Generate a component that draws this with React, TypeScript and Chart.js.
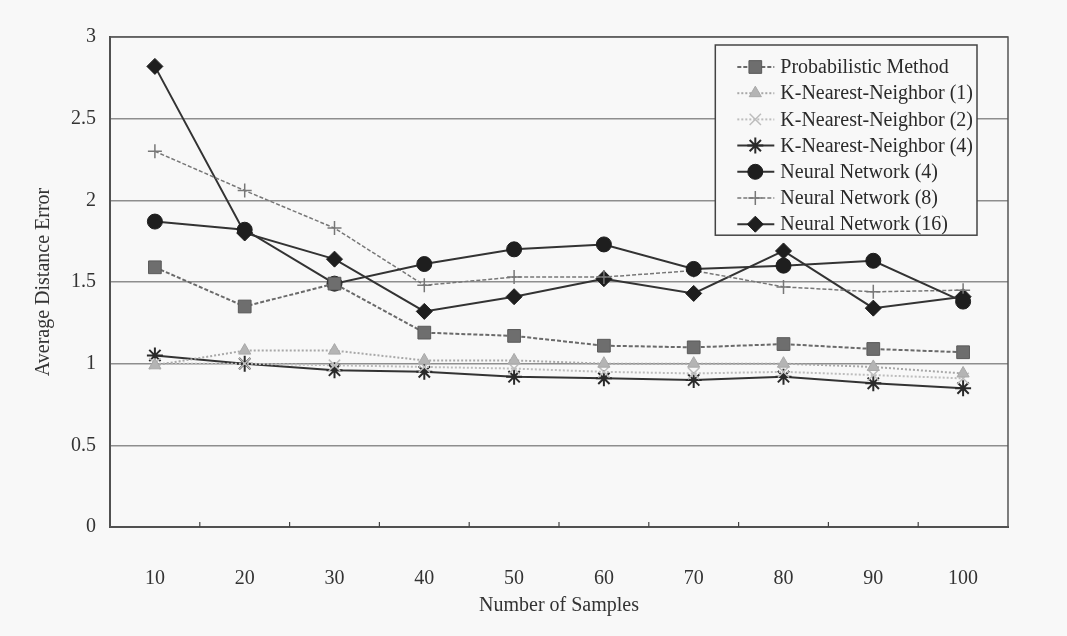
import React, { useEffect, useRef } from 'react';
import { Chart, registerables } from 'chart.js';

Chart.register(...registerables);

const sampleCounts = ['10', '20', '30', '40', '50', '60', '70', '80', '90', '100'];

const probabilisticMethod = [1.59, 1.35, 1.49, 1.19, 1.17, 1.11, 1.1, 1.12, 1.09, 1.07];
const knn1 = [0.99, 1.08, 1.08, 1.02, 1.02, 1.0, 1.0, 1.0, 0.98, 0.94];
const knn2 = [1.0, 1.0, 0.99, 0.98, 0.97, 0.95, 0.94, 0.95, 0.93, 0.91];
const knn4 = [1.05, 1.0, 0.96, 0.95, 0.92, 0.91, 0.9, 0.92, 0.88, 0.85];
const nn4 = [1.87, 1.82, 1.49, 1.61, 1.7, 1.73, 1.58, 1.6, 1.63, 1.38];
const nn8 = [2.3, 2.06, 1.83, 1.48, 1.53, 1.53, 1.57, 1.47, 1.44, 1.45];
const nn16 = [2.82, 1.8, 1.64, 1.32, 1.41, 1.52, 1.43, 1.69, 1.34, 1.41];

const seriesLabels = [
  'Probabilistic Method',
  'K-Nearest-Neighbor (1)',
  'K-Nearest-Neighbor (2)',
  'K-Nearest-Neighbor (4)',
  'Neural Network (4)',
  'Neural Network (8)',
  'Neural Network (16)',
];

const yAxisTitle = 'Average Distance Error';
const xAxisTitle = 'Number of Samples';

const FONT = "'Liberation Serif', 'Times New Roman', serif";
const BG = '#f8f8f8';

function drawMarker(ctx: CanvasRenderingContext2D, style: string, x: number, y: number, r: number, fill: string, stroke: string, lw: number) {
  ctx.save();
  ctx.setLineDash([]);
  ctx.fillStyle = fill;
  ctx.strokeStyle = stroke;
  ctx.lineWidth = lw;
  ctx.beginPath();
  if (style === 'rect') {
    const s = Math.SQRT1_2 * r;
    ctx.rect(x - s, y - s, 2 * s, 2 * s);
    ctx.fill();
    ctx.stroke();
  } else if (style === 'circle') {
    ctx.arc(x, y, r, 0, Math.PI * 2);
    ctx.fill();
    ctx.stroke();
  } else if (style === 'rectRot') {
    ctx.moveTo(x, y - r);
    ctx.lineTo(x + r, y);
    ctx.lineTo(x, y + r);
    ctx.lineTo(x - r, y);
    ctx.closePath();
    ctx.fill();
    ctx.stroke();
  } else if (style === 'triangle') {
    ctx.moveTo(x, y - r);
    ctx.lineTo(x + r * 0.866, y + r * 0.5);
    ctx.lineTo(x - r * 0.866, y + r * 0.5);
    ctx.closePath();
    ctx.fill();
    ctx.stroke();
  } else if (style === 'cross') {
    ctx.moveTo(x - r, y);
    ctx.lineTo(x + r, y);
    ctx.moveTo(x, y - r);
    ctx.lineTo(x, y + r);
    ctx.stroke();
  } else if (style === 'crossRot') {
    const d = r * Math.SQRT1_2;
    ctx.moveTo(x - d, y - d);
    ctx.lineTo(x + d, y + d);
    ctx.moveTo(x - d, y + d);
    ctx.lineTo(x + d, y - d);
    ctx.stroke();
  } else if (style === 'star') {
    const d = r * Math.SQRT1_2;
    ctx.moveTo(x - r, y);
    ctx.lineTo(x + r, y);
    ctx.moveTo(x, y - r);
    ctx.lineTo(x, y + r);
    ctx.moveTo(x - d, y - d);
    ctx.lineTo(x + d, y + d);
    ctx.moveTo(x - d, y + d);
    ctx.lineTo(x + d, y - d);
    ctx.stroke();
  }
  ctx.restore();
}

const framePlugin = {
  id: 'frameAndLegend',
  beforeDraw(chart: any) {
    const { ctx, width, height } = chart;
    ctx.save();
    ctx.fillStyle = BG;
    ctx.fillRect(0, 0, width, height);
    ctx.restore();
  },
  afterDraw(chart: any) {
    const { ctx, chartArea: ca } = chart;
    const xScale = chart.scales.x;
    ctx.save();
    // frame
    ctx.strokeStyle = '#555';
    ctx.lineWidth = 1.5;
    ctx.strokeRect(ca.left, ca.top, ca.right - ca.left, ca.bottom - ca.top);
    // inward tick marks between categories
    ctx.strokeStyle = '#444';
    ctx.lineWidth = 1.2;
    for (let i = 1; i < sampleCounts.length; i++) {
      const px = (xScale.getPixelForTick(i - 1) + xScale.getPixelForTick(i)) / 2;
      ctx.beginPath();
      ctx.moveTo(px, ca.bottom);
      ctx.lineTo(px, ca.bottom - 5);
      ctx.stroke();
    }
    // legend
    ctx.font = `20px ${FONT}`;
    const datasets = chart.data.datasets;
    let maxW = 0;
    datasets.forEach((ds: any) => {
      maxW = Math.max(maxW, ctx.measureText(ds.label).width);
    });
    const rowH = 26.2;
    const boxW = 65 + maxW + 4;
    const right = ca.right - 31;
    const left = right - boxW;
    const top = ca.top + 8;
    const boxH = 22 + rowH * (datasets.length - 1) + 11;
    ctx.fillStyle = BG;
    ctx.fillRect(left, top, boxW, boxH);
    ctx.strokeStyle = '#444';
    ctx.lineWidth = 1.5;
    ctx.strokeRect(left, top, boxW, boxH);
    datasets.forEach((ds: any, i: number) => {
      const cy = top + 22 + i * rowH;
      ctx.save();
      ctx.strokeStyle = ds.borderColor;
      ctx.lineWidth = ds.borderWidth;
      ctx.setLineDash(ds.borderDash || []);
      ctx.beginPath();
      ctx.moveTo(left + 22, cy);
      ctx.lineTo(left + 59, cy);
      ctx.stroke();
      ctx.restore();
      drawMarker(ctx, ds.pointStyle, left + 40, cy, ds.pointRadius, ds.pointBackgroundColor, ds.pointBorderColor, ds.pointBorderWidth);
      ctx.fillStyle = '#2a2a2a';
      ctx.textBaseline = 'middle';
      ctx.textAlign = 'left';
      ctx.fillText(ds.label, left + 65, cy + 1);
    });
    ctx.restore();
  },
};

export default function App() {
  const canvasRef = useRef<HTMLCanvasElement | null>(null);

  useEffect(() => {
    const canvas = canvasRef.current;
    if (!canvas) return;
    const mk = (label: string, data: number[], o: any) => ({
      label,
      data,
      fill: false,
      tension: 0,
      ...o,
    });
    const datasets = [
      mk(seriesLabels[0], probabilisticMethod, {
        borderColor: '#6a6a6a', borderWidth: 2, borderDash: [4, 2],
        pointStyle: 'rect', pointRadius: 9, pointBackgroundColor: '#6e6e6e', pointBorderColor: '#5a5a5a', pointBorderWidth: 1,
      }),
      mk(seriesLabels[1], knn1, {
        borderColor: '#a8a8a8', borderWidth: 2, borderDash: [2, 2],
        pointStyle: 'triangle', pointRadius: 7, pointBackgroundColor: '#b4b4b4', pointBorderColor: '#a8a8a8', pointBorderWidth: 1,
      }),
      mk(seriesLabels[2], knn2, {
        borderColor: '#bdbdbd', borderWidth: 2, borderDash: [2, 2],
        pointStyle: 'crossRot', pointRadius: 8, pointBackgroundColor: '#bdbdbd', pointBorderColor: '#bdbdbd', pointBorderWidth: 1.5,
      }),
      mk(seriesLabels[3], knn4, {
        borderColor: '#333', borderWidth: 2,
        pointStyle: 'star', pointRadius: 8, pointBackgroundColor: '#333', pointBorderColor: '#2a2a2a', pointBorderWidth: 2,
      }),
      mk(seriesLabels[4], nn4, {
        borderColor: '#333', borderWidth: 2,
        pointStyle: 'circle', pointRadius: 7.5, pointBackgroundColor: '#1e1e1e', pointBorderColor: '#1e1e1e', pointBorderWidth: 1,
      }),
      mk(seriesLabels[5], nn8, {
        borderColor: '#777', borderWidth: 1.5, borderDash: [4, 2],
        pointStyle: 'cross', pointRadius: 7, pointBackgroundColor: '#777', pointBorderColor: '#777', pointBorderWidth: 1.5,
      }),
      mk(seriesLabels[6], nn16, {
        borderColor: '#333', borderWidth: 2,
        pointStyle: 'rectRot', pointRadius: 8, pointBackgroundColor: '#1e1e1e', pointBorderColor: '#1e1e1e', pointBorderWidth: 1,
      }),
    ];

    const chart = new Chart(canvas, {
      type: 'line',
      data: { labels: sampleCounts, datasets },
      plugins: [framePlugin],
      options: {
        responsive: false,
        animation: false,
        layout: { padding: { left: 0, right: 59, top: 37, bottom: 0 } },
        plugins: {
          legend: { display: false },
          tooltip: { enabled: false },
        },
        scales: {
          x: {
            type: 'category',
            offset: true,
            grid: { display: false, drawTicks: false },
            border: { display: true, color: '#444', width: 2 },
            ticks: { padding: 40, color: '#333', font: { family: FONT, size: 20 } },
            title: {
              display: true,
              text: xAxisTitle,
              color: '#333',
              font: { family: FONT, size: 20 },
              padding: { top: 0, bottom: 18 },
            },
            afterFit(scale: any) { scale.height = 109; },
          },
          y: {
            min: 0,
            max: 3,
            ticks: {
              stepSize: 0.5,
              padding: 14,
              color: '#333',
              font: { family: FONT, size: 20 },
              callback: (v: any) => String(Number(v)),
            },
            grid: { color: '#8e8e8e', lineWidth: 1.5, drawTicks: false },
            border: { display: true, color: '#444', width: 2 },
            title: {
              display: true,
              text: yAxisTitle,
              color: '#333',
              font: { family: FONT, size: 20 },
              padding: { top: 32, bottom: 0 },
            },
            afterFit(scale: any) { scale.width = 110; },
          },
        },
      } as any,
    });
    return () => chart.destroy();
  }, []);

  return (
    <div style={{ position: 'fixed', left: 0, top: 0, width: 1067, height: 636, background: BG }}>
      <canvas ref={canvasRef} width={1067} height={636} style={{ display: 'block' }} />
    </div>
  );
}
